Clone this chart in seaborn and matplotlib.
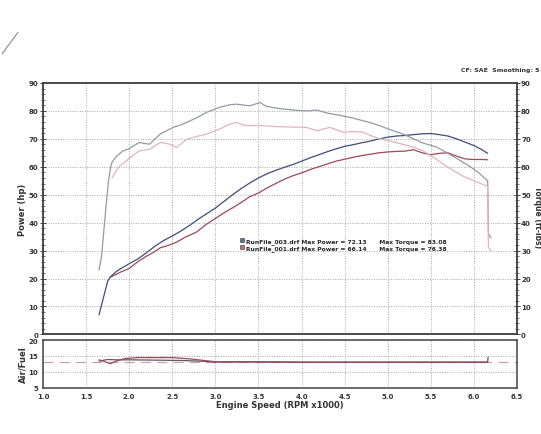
import matplotlib
matplotlib.use("Agg")
import matplotlib.pyplot as plt
from matplotlib.patches import Patch
from matplotlib.ticker import MultipleLocator
import seaborn as sns
import pandas as pd

# run 003 (blue) - power
rpm_p3 = [1.65, 1.70, 1.75, 1.78, 1.85, 1.90, 2.00, 2.10, 2.20, 2.30, 2.40, 2.50, 2.60, 2.70,
          2.80, 2.90, 3.00, 3.10, 3.20, 3.30, 3.40, 3.50, 3.60, 3.70, 3.80, 3.90, 4.00, 4.10,
          4.20, 4.30, 4.40, 4.50, 4.60, 4.70, 4.80, 4.90, 5.00, 5.10, 5.20, 5.30, 5.40, 5.50,
          5.60, 5.70, 5.80, 5.90, 6.00, 6.10, 6.16]
hp_3 = [7, 13, 19, 20.5, 22.5, 23.5, 25.3, 27, 29.2, 31.6, 33.6, 35.2, 37, 39,
        41.2, 43.2, 45.2, 47.6, 50, 52.2, 54.2, 56, 57.5, 58.7, 59.8, 60.8, 62, 63.2,
        64.3, 65.4, 66.4, 67.3, 67.9, 68.6, 69.2, 70, 70.6, 71, 71.2, 71.5, 71.8, 71.9,
        71.5, 71, 70, 68.8, 67.6, 66, 64.8]

# run 001 (red) - power
rpm_p1 = [1.78, 1.85, 1.90, 2.00, 2.05, 2.10, 2.20, 2.28, 2.36, 2.45, 2.55, 2.65, 2.78, 2.90,
          3.00, 3.10, 3.20, 3.30, 3.40, 3.50, 3.60, 3.70, 3.80, 3.90, 4.00, 4.10, 4.20, 4.30,
          4.40, 4.50, 4.60, 4.70, 4.80, 4.90, 5.00, 5.10, 5.20, 5.30, 5.40, 5.50, 5.60, 5.70,
          5.80, 5.90, 6.00, 6.10, 6.16]
hp_1 = [20.5, 21.5, 22.3, 23.6, 24.8, 26, 28, 29.3, 31, 31.8, 33, 34.8, 36.6, 39.5,
        41.5, 43.5, 45.3, 47.2, 49.3, 50.6, 52.4, 54, 55.5, 56.8, 57.8, 59, 60, 61,
        62, 62.7, 63.4, 64, 64.5, 65, 65.3, 65.5, 65.6, 66.1, 65, 64.3, 64.8, 65,
        63.8, 62.8, 62.6, 62.6, 62.5]

# run 003 torque
rpm_t3 = [1.65, 1.68, 1.72, 1.76, 1.78, 1.80, 1.86, 1.93, 1.99, 2.05, 2.12, 2.18, 2.24, 2.30,
          2.36, 2.44, 2.51, 2.60, 2.67, 2.80, 2.90, 3.05, 3.17, 3.25, 3.40, 3.52, 3.58, 3.63,
          3.75, 3.90, 4.06, 4.18, 4.30, 4.48, 4.60, 4.71, 4.80, 4.91, 5.00, 5.18, 5.30, 5.40,
          5.57, 5.70, 5.80, 5.95, 6.05, 6.16, 6.17, 6.20]
tq_3 = [23, 28, 42, 55, 59, 61.6, 64, 65.7, 66.3, 67.5, 68.7, 68.3, 68.1, 70,
        71.7, 73, 74.1, 75, 75.9, 77.8, 79.5, 81.3, 82.2, 82.4, 81.8, 83, 81.8, 81.4,
        80.8, 80.3, 80, 80.3, 79.2, 78.2, 77.4, 76.5, 75.8, 74.7, 73.6, 71.7, 70, 68.6,
        67, 64.8, 63, 60.2, 58, 55, 36, 34.5]

# run 001 torque
rpm_t1 = [1.80, 1.85, 1.89, 1.99, 2.06, 2.12, 2.24, 2.36, 2.47, 2.55, 2.67, 2.80, 2.90, 3.05,
          3.17, 3.25, 3.32, 3.40, 3.50, 3.60, 3.70, 3.90, 4.06, 4.18, 4.33, 4.48, 4.60, 4.71,
          4.80, 4.91, 5.05, 5.18, 5.30, 5.41, 5.55, 5.68, 5.87, 6.00, 6.16, 6.17, 6.20]
tq_1 = [56, 58.5, 60.3, 62.7, 64.5, 65.7, 66.3, 68.7, 68.1, 66.9, 69.9, 71, 71.7, 73.5,
        75.3, 75.9, 74.9, 74.7, 74.8, 74.6, 74.4, 74.2, 74.1, 72.9, 74.1, 72.4, 72.6, 72.4,
        71.2, 70, 69, 68, 67, 65.7, 63, 60.2, 56.7, 55, 53, 31, 30]

# air/fuel
rpm_af1 = [1.65, 1.72, 1.78, 1.85, 1.95, 2.10, 2.30, 2.50, 2.70, 2.90, 3.00, 3.50, 4.00,
           4.50, 5.00, 5.50, 6.00, 6.16]
af_1 = [13.8, 13.2, 12.6, 13.4, 14.2, 14.5, 14.5, 14.5, 14.1, 13.5, 13.2, 13.2, 13.1,
        13.1, 13.1, 13.1, 13.1, 13.1]
rpm_af3 = [1.65, 1.75, 1.85, 2.00, 2.30, 2.60, 2.80, 3.00, 3.50, 4.00, 4.50, 5.00, 5.50,
           6.00, 6.16, 6.165]
af_3 = [13.4, 13.9, 13.8, 13.8, 13.7, 13.6, 13.4, 13.1, 13.1, 13.0, 13.0, 13.0, 13.0,
        13.0, 13.0, 14.6]
af_target = 13.0

legend_labels = ["RunFile_003.drf Max Power = 72.13      Max Torque = 83.08",
                 "RunFile_001.drf Max Power = 66.14      Max Torque = 76.38"]

c_blue = "#3e4d7a"
c_red = "#9a4a58"
c_blue_tq = "#9399a8"
c_red_tq = "#e2b4bc"
grid_kw = dict(ls=(0, (1, 1.5)), color="#a8a8a8", lw=0.7)

sns.set_style("white")
plt.rcParams["font.family"] = ["DejaVu Sans"]
plt.rcParams["font.weight"] = "bold"

fig = plt.figure(figsize=(5.41, 4.35), dpi=100)
ax = fig.add_axes([0.0795, 0.229, 0.876, 0.578])
ax2 = ax.twinx()
axf = fig.add_axes([0.0795, 0.106, 0.876, 0.110])

sns.lineplot(x=rpm_t3, y=tq_3, ax=ax2, color=c_blue_tq, lw=0.9, sort=False)
sns.lineplot(x=rpm_t1, y=tq_1, ax=ax2, color=c_red_tq, lw=0.9, sort=False)
sns.lineplot(x=rpm_p1, y=hp_1, ax=ax, color=c_red, lw=0.9, sort=False)
sns.lineplot(x=rpm_p3, y=hp_3, ax=ax, color=c_blue, lw=0.9, sort=False)

for a in (ax, ax2):
    a.set_xlim(1.0, 6.5)
    a.set_ylim(0, 90)
    a.yaxis.set_major_locator(MultipleLocator(10))
    a.yaxis.set_minor_locator(MultipleLocator(2))
ax.xaxis.set_major_locator(MultipleLocator(0.5))
ax.xaxis.set_minor_locator(MultipleLocator(0.1))
ax.set_xticklabels([])
ax.grid(True, which="major", **grid_kw)

ax.set_ylabel("Power (hp)", fontsize=6, fontweight="bold", color="#333333", labelpad=1)
ax2.set_ylabel("")
fig.text(0.994, 0.50, "Torque (ft-lbs)", rotation=270, ha="center", va="center",
         fontsize=5.5, fontweight="bold", color="#333333")

ax.legend(handles=[Patch(facecolor="#5a74a8", edgecolor="#333333", lw=0.4),
                   Patch(facecolor="#c8707a", edgecolor="#333333", lw=0.4)],
          labels=legend_labels, loc="upper left", bbox_to_anchor=(0.41, 0.395),
          frameon=False, fontsize=4.3, handlelength=0.7, handleheight=0.7,
          handletextpad=0.25, labelspacing=0.1, borderpad=0)

# air/fuel panel
axf.axhline(af_target, color="#c9a2aa", lw=0.9, ls=(0, (8, 5)))
sns.lineplot(x=rpm_af3, y=af_3, ax=axf, color="#6a5563", lw=0.9, sort=False)
sns.lineplot(x=rpm_af1, y=af_1, ax=axf, color=c_red, lw=0.9, sort=False)
axf.set_xlim(1.0, 6.5)
axf.set_ylim(5, 20)
axf.xaxis.set_minor_locator(MultipleLocator(0.1))
axf.yaxis.set_major_locator(MultipleLocator(5))
axf.yaxis.set_minor_locator(MultipleLocator(1))
axf.set_xticks([1.0 + 0.5 * i for i in range(12)])
axf.set_xticklabels([f"{1.0 + 0.5 * i:.1f}" for i in range(12)])
axf.grid(True, which="major", **grid_kw)
axf.set_ylabel("Air/Fuel", fontsize=6, fontweight="bold", color="#333333", labelpad=1)
axf.set_xlabel("Engine Speed (RPM x1000)", fontsize=6, fontweight="bold", color="#333333",
               labelpad=1)

for a in (ax, ax2, axf):
    for s in a.spines.values():
        s.set_color("#444444")
        s.set_linewidth(1.1)
    a.tick_params(which="major", direction="inout", length=4, width=0.7, colors="#444444",
                  labelsize=5, pad=1.5)
    a.tick_params(which="minor", direction="inout", length=2.5, width=0.5, colors="#444444")
for lab in ax.get_yticklabels() + ax2.get_yticklabels() + axf.get_yticklabels() + axf.get_xticklabels():
    lab.set_fontweight("bold")
    lab.set_color("#333333")
ax.tick_params(axis="x", which="both", top=False)
ax2.tick_params(axis="y", which="both", right=True, pad=1)

fig.text(0.998, 0.838, "CF: SAE  Smoothing: 5", ha="right", va="center",
         fontsize=4.5, fontweight="bold", color="#333333")
fig.add_artist(plt.Line2D([0.004, 0.033], [0.874, 0.923], color="#8a8a8a", lw=0.8))

fig.savefig("out.png", dpi=100, facecolor="white")
